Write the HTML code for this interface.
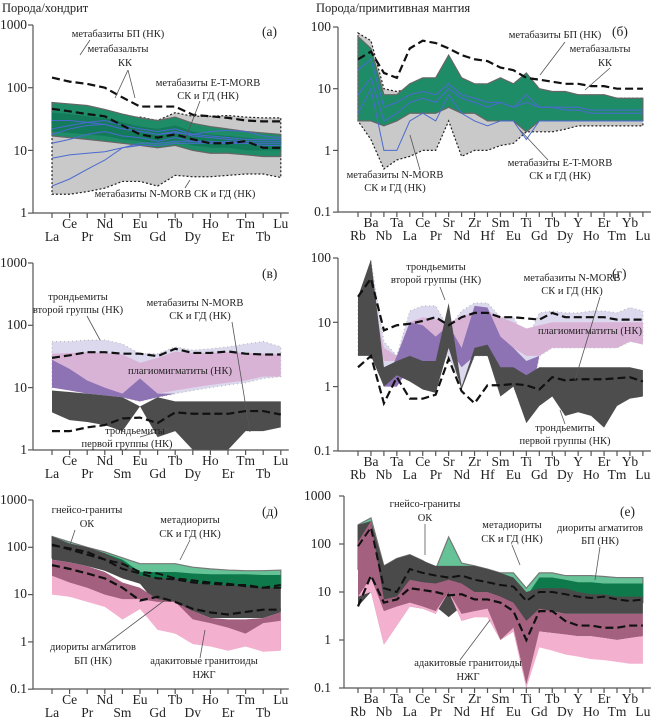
<!DOCTYPE html>
<html><head><meta charset="utf-8">
<style>
body{margin:0;background:#fff;}
svg text{font-family:"Liberation Serif",serif;fill:#222;}
.t{font-size:10.5px;}
.ax{font-size:13.5px;}
.h{font-size:12.5px;}
</style></head>
<body>
<svg id="s" width="652" height="717" viewBox="0 0 652 717" xmlns="http://www.w3.org/2000/svg">
<rect width="652" height="717" fill="#fff"/>
<g id="shapes"></g>
<g id="axes" stroke="#555" stroke-width="1.2" fill="none"></g>
<text class="h" x="2" y="12">Порода/хондрит</text>
<text class="h" x="316" y="12">Порода/примитивная мантия</text>
<g class="ax" text-anchor="end">
<text x="27" y="29">1000</text><text x="27" y="92">100</text><text x="27" y="155">10</text><text x="27" y="217">1</text>
<text x="331" y="31">100</text><text x="331" y="93">10</text><text x="331" y="155">1</text><text x="331" y="216">0.1</text>
<text x="27" y="267">1000</text><text x="27" y="329">100</text><text x="27" y="392">10</text><text x="27" y="454">1</text>
<text x="331" y="262">100</text><text x="331" y="327">10</text><text x="331" y="391">1</text><text x="331" y="455">0.1</text>
<text x="27" y="504">1000</text><text x="27" y="551">100</text><text x="27" y="598">10</text><text x="27" y="646">1</text><text x="27" y="693">0.1</text>
<text x="331" y="500">1000</text><text x="331" y="548">100</text><text x="331" y="596">10</text><text x="331" y="644">1</text><text x="331" y="692">0.1</text>
</g>
<g id="xl" class="ax" text-anchor="middle"></g>
<g class="ax"><text x="262" y="36">(а)</text><text x="612" y="36">(б)</text><text x="262" y="278">(в)</text><text x="612" y="278">(г)</text><text x="262" y="516">(д)</text><text x="620" y="516">(е)</text></g>
<g class="t" text-anchor="middle">
<text x="118" y="37">метабазиты БП (НК)</text>
<text x="118" y="52">метабазальты</text><text x="125" y="66">КК</text>
<text x="208" y="86">метабазиты E-T-MORB</text><text x="208" y="99">СК и ГД (НК)</text>
<text x="175" y="197">метабазиты N-MORB СК и ГД (НК)</text>
<text x="555" y="38">метабазиты БП (НК)</text>
<text x="600" y="52">метабазальты</text><text x="605" y="66">КК</text>
<text x="560" y="166">метабазиты E-T-MORB</text><text x="560" y="179">СК и ГД (НК)</text>
<text x="395" y="178">метабазиты N-MORB</text><text x="395" y="191">СК и ГД (НК)</text>
<text x="78" y="300">трондьемиты</text><text x="78" y="313">второй группы (НК)</text>
<text x="195" y="306">метабазиты N-MORB</text><text x="200" y="319">СК и ГД (НК)</text>
<text x="180" y="374">плагиомигматиты (НК)</text>
<text x="135" y="434">трондьемиты</text><text x="127" y="447">первой группы (НК)</text>
<text x="436" y="270">трондьемиты</text><text x="436" y="283">второй группы (НК)</text>
<text x="572" y="281">метабазиты N-MORB</text><text x="572" y="294">СК и ГД (НК)</text>
<text x="590" y="334">плагиомигматиты (НК)</text>
<text x="565" y="431">трондьемиты</text><text x="565" y="444">первой группы (НК)</text>
<text x="87" y="513">гнейсо-граниты</text><text x="87" y="527">ОК</text>
<text x="190" y="523">метадиориты</text><text x="190" y="537">СК и ГД (НК)</text>
<text x="93" y="650">диориты агматитов</text><text x="93" y="664">БП (НК)</text>
<text x="204" y="664">адакитовые гранитоиды</text><text x="204" y="678">НЖГ</text>
<text x="425" y="507">гнейсо-граниты</text><text x="425" y="521">ОК</text>
<text x="512" y="528">метадиориты</text><text x="512" y="542">СК и ГД (НК)</text>
<text x="600" y="531">диориты агматитов</text><text x="600" y="544">БП (НК)</text>
<text x="468" y="666">адакитовые гранитоиды</text><text x="468" y="680">НЖГ</text>
</g>
</svg>
<script>
var NS="http://www.w3.org/2000/svg";
var G=document.getElementById('shapes'),A=document.getElementById('axes'),XL=document.getElementById('xl');
function P(ax,x0,dx,n,top,ytop,dec,ybot){return{ax:ax,x0:x0,dx:dx,n:n,top:top,ytop:ytop,dec:dec,ybot:ybot};}
var REE=['La','Ce','Pr','Nd','Sm','Eu','Gd','Tb','Dy','Ho','Er','Tm','Tb','Lu'];
var PM=['Rb','Ba','Nb','Ta','La','Ce','Pr','Sr','Nd','Zr','Hf','Sm','Eu','Ti','Gd','Tb','Dy','Y','Ho','Er','Tm','Yb','Lu'];
var pa=P(33,52,17.6,14,1000,25,62.7,213), pb=P(338,358,12.95,23,100,27,61.7,212),
    pc=P(33,52,17.6,14,1000,263,62.3,450), pd=P(338,358,12.95,23,100,258,64.3,451),
    pe=P(33,52,17.6,14,1000,500,47.3,689), pf=P(344,358,12.95,23,1000,496,48,688);
function Y(p,v){return p.ytop+(Math.log10(p.top)-Math.log10(v))*p.dec;}
function X(p,i){return p.x0+i*p.dx;}
function el(t,a,par){var e=document.createElementNS(NS,t);for(var k in a)e.setAttribute(k,a[k]);(par||G).appendChild(e);return e;}
function band(p,up,lo,fill,stroke,dash){var s=[];for(var i=0;i<up.length;i++)s.push(X(p,i)+','+Y(p,up[i]));for(var i=lo.length-1;i>=0;i--)s.push(X(p,i)+','+Y(p,lo[i]));
 el('polygon',{points:s.join(' '),fill:fill,stroke:stroke||'none','stroke-width':1.2,'stroke-dasharray':dash||''});}
function line(p,v,col,w,dash){var s=[];for(var i=0;i<v.length;i++)s.push(X(p,i)+','+Y(p,v[i]));el('polyline',{points:s.join(' '),fill:'none',stroke:col,'stroke-width':w,'stroke-dasharray':dash||''});}
function axes(p,names,w){el('line',{x1:p.ax,y1:p.ytop,x2:p.ax,y2:p.ybot},A);el('line',{x1:p.ax,y1:p.ybot,x2:X(p,p.n-1)+8,y2:p.ybot},A);
 for(var y=p.ytop;y<=p.ybot+1;y+=p.dec)el('line',{x1:p.ax-5,y1:y,x2:p.ax,y2:y},A);
 for(var i=0;i<p.n;i++){el('line',{x1:X(p,i),y1:p.ybot,x2:X(p,i),y2:p.ybot+5},A);var t=el('text',{x:X(p,i),y:p.ybot+(i%2?15:28)},XL);t.textContent=names[i];}}
// (a)
band(pa,[28,30,33,35,34,34,30,40,35,35,36,34,33,33],[2,2,2.2,2.5,3.2,3.2,2.7,4,3.8,3.8,4,4.2,4.2,3.7],'#c9c9c9','#222','2,2');
band(pa,[58,55,52,45,38,33,30,34,27,24,22,20,19,18],[17,16,15,14,13,12,11,12,10,9,9,8.5,8,8],'#1f8c68','#666');
band(pa,[40,38,35,33,28,24,22,25,20,18,17,16,15,15],[20,19,18,17,15,14,13,14,12,11,11,10,10,10],'#137a5a');
[[18,22,25,26,22,20,18,20,17,16,15,14,14,14],[13,15,18,20,17,16,14,16,14,13,14,13,13,13],[7.5,8.5,9,9.5,11,12,12,13,13,13,13,13,12,12],[2.7,3.5,5,7,11,13,13,14,14,14,13,13,12,12],[30,30,28,26,22,20,18,19,18,20,21,20,17,16],[22,25,28,30,25,22,20,22,18,17,16,15,15,15]].forEach(function(v){line(pa,v,'#4a6ad0',1);});
line(pa,[145,125,115,100,70,50,50,50,37,35,33,30,29,29],'#111',2.2,'8,4');
line(pa,[46,42,38,35,25,18,16,18,15,13,13,14,11,11],'#111',2.2,'8,4');
// (b)
band(pb,[80,60,10,9,10,12,10,30,12,10,10,10,9,10,9,8,8,8,7,7,7,7,7],[3,1.5,0.5,0.7,0.8,1,1,3,0.8,1,1,1.2,1.3,2,2,2,2.2,2.5,2.5,2.5,2.5,2.5,2.5],'#c9c9c9','#222','2,2');
band(pb,[70,45,8,8,12,15,15,35,15,12,12,15,12,18,10,9,9,8,8,8,7,7,7],[3,3,2.5,3,4,4,4,5,4,4,3,3,3,2,3,3,3,3,3,3,3,3,3],'#1f8c68','#666');
[[20,30,5,6,8,9,8,12,8,7,6,6,5,6,5,5,5,5,4.5,4.5,4.5,4.5,4.5],[8,15,3,4,6,7,6,10,7,6,5,6,5,8,5,5,4.5,4.5,4,4,4,4,4],[4,10,1,1,3,4,3,8,4,3,2.5,3,3,1.5,3,3,3,3,3,3,3,3,3]].forEach(function(v){line(pb,v,'#4a6ad0',1);});
line(pb,[30,40,18,15,45,60,55,45,35,30,28,22,20,15,14,13,12,12,11,11,10,10,10],'#111',2.2,'8,4');
// (c)
band(pc,[55,55,58,58,50,35,35,45,40,42,45,50,55,45],[10,10,9,8,7,6,7,8,9,10,11,12,14,15],'#dcd8ee','#bbb','1,3');
band(pc,[35,36,37,36,34,25,30,38,36,36,37,36,35,34],[28,20,13,10,7,6,8,9,10,11,12,13,15,15],'#d9b3d6');
band(pc,[28,20,13,10,8,14,8,8,9,10,11,12,14,15],[10,9,8,7.5,7,6,7,8,9,10,11,12,14,15],'#8d72b4');
band(pc,[9,8.5,8,7.5,7,5,7,6,6,6,6,6,6,6],[4,3,2.8,2.5,2,5,1.6,2,1,1,1,2,2,2.3],'#4d4d4d');
line(pc,[30,33,37,37,35,35,32,42,36,36,38,35,34,34],'#111',2.2,'8,4');
line(pc,[2,2,2.3,2.5,3.2,3.3,2.7,4,3.8,3.8,3.8,4.2,4.2,3.7],'#111',2.2,'8,4');
// (d)
band(pd,[20,90,5,3,15,18,18,8,15,20,20,12,12,5,14,15,14,14,15,15,14,17,15],[3,15,1,2,3,3,2,3,1,3,3,1.5,1,0.3,3,4,4,4,4,4,4,5,5],'#dcd8ee','#bbb','1,3');
band(pd,[7,30,4,3,10,12,11,10,12,15,15,12,10,8,9,10,10,10,10,10,10,10,10],[4,8,2.5,2.5,3,3,3,4,4,4,4,4,4,3,3,4,4,4,4,4,4,5,4.5],'#d9b3d6');
band(pd,[7,25,1,3,10,9,6,9,4,18,17,6,4,2.5,3,4,4,4,4,4,4,5,4.5],[3,6,1,1,2,2,2,4,2,3,3,2,1.5,0.3,3,4,4,4,4,4,4,5,4.5],'#8d72b4');
band(pd,[25,95,2,2.5,3,2.5,2.5,20,1,4,4.5,2,2,1.5,2,2,2,2,2,2,2,2,1.8],[3,3,1,1.5,1.2,0.9,0.8,4,0.9,3,3,0.7,1,0.27,0.5,0.7,0.35,0.4,0.35,0.23,0.5,0.65,0.7],'#4d4d4d');
line(pd,[25,48,7.5,9,9.5,10.5,12,9,12,14,14,12,12,11.5,11,14,12,12,12,12,11,11,11],'#111',2.2,'8,4');
line(pd,[2,3,0.55,1.4,0.65,0.65,0.75,2.7,0.85,0.55,1.05,1.05,1.1,1.05,0.9,1.4,1.25,1.3,1.3,1.3,1.35,1.4,1.2],'#111',2.2,'8,4');
// (e)
band(pe,[170,130,100,80,60,45,45,45,38,35,33,32,32,33],[60,55,50,40,28,20,20,20,18,17,16,15,14,14],'#66c297','#777');
band(pe,[120,100,90,75,55,30,30,30,28,27,27,27,26,26],[55,50,45,38,28,20,20,20,17,16,15,15,14,13],'#0e7a4c');
band(pe,[170,120,100,75,50,25,22,22,18,16,16,15,14,14],[55,48,40,32,22,17,6,5,4.5,3.2,3.2,3.2,3.2,4.2],'#4a4a4a');
band(pe,[55,48,40,30,18,14,8,7,4.5,3.2,3,3,3.2,4.2],[11,9,8,6,3,5,2,1.5,1.2,1,0.8,0.9,0.7,0.7],'#a3607f');
band(pe,[25,18,14,10,8,8,7,7,3,2.5,2,1.5,2.5,2.8],[10,9,7,5.5,3,5,1.8,1.5,0.9,0.8,0.65,0.8,0.62,0.65],'#f4b0cf');
line(pe,[110,95,80,55,45,30,28,22,20,18,17,15,14,16],'#111',2,'8,4');
line(pe,[115,90,70,55,35,28,22,21,18,17,16,16,14,14],'#111',2,'8,4');
line(pe,[42,35,28,22,14,7.5,9,7,5,4.2,3.8,4.3,4.8,4.8],'#111',2.2,'8,4');
// (f)
band(pf,[250,350,35,50,60,45,30,140,40,35,30,25,25,12,25,25,22,22,22,21,20,20,20],[30,40,10,12,15,15,12,20,12,10,10,8,8,5,6,6,6,6,6,6,6,6,6],'#66c297','#777');
band(pf,[110,200,15,30,50,40,30,28,30,25,22,18,15,8,20,20,18,16,16,15,15,15,15],[10,15,8,8,12,12,10,10,10,8,8,7,7,5,6,6,6,6,6,6,6,6,6],'#0e7a4c');
band(pf,[250,300,35,50,60,45,35,35,35,35,30,25,20,10,12,12,12,10,9,9,8,8,8],[5,10,6,5,5,4.5,5,3,5,5,5,3,2,1.5,4,4,3.5,3.5,3.5,3.5,3.5,3.5,3.5],'#4a4a4a');
band(pf,[110,300,7,8,18,16,15,18,15,10,10,8,6,2.5,4.5,4,3.5,3.5,3.5,3.5,3.5,3.5,3.5],[8,10,0.8,2,5,4.5,3.5,10,2.5,3,3,1,1.5,0.1,1.5,1.4,1.3,1.2,1.2,1.1,1,1.1,1.2],'#a3607f');
band(pf,[8,20,4,5,6,5,4,10,3.5,4,4.5,1,1.8,0.12,1.5,1.4,1.3,1.2,1.2,1.1,1,1.1,1.2],[8,10,0.8,2,5,4.5,3.5,10,2.5,3,3,1,1.5,0.1,0.7,0.6,0.5,0.45,0.4,0.38,0.35,0.32,0.32],'#f4b0cf');
line(pf,[90,220,12,10,30,25,22,20,22,18,16,14,13,6.5,10,10,9,8,7.5,8,7,6.5,7],'#111',2,'8,4');
line(pf,[5,22,6,7,12,11,10,8.5,9,7,7,6,4,1,4,4,2.5,2,2,1.8,1.8,2,2],'#111',2.2,'8,4');
// leader lines
[[90,40,80,55],[128,70,115,98],[128,70,135,98],[200,101,185,140],[185,188,190,180],[565,42,540,75],[610,68,585,90],[548,160,520,130],[420,170,410,135],[87,316,100,340],[232,322,250,432],[140,437,170,428],[440,287,445,300],[600,297,575,380],[565,424,560,410],[75,530,70,545],[190,540,180,560],[105,645,165,600],[200,658,205,630],[425,524,425,555],[512,545,520,565],[600,547,595,580],[460,660,490,620]].forEach(function(l){el('line',{x1:l[0],y1:l[1],x2:l[2],y2:l[3],stroke:'#555','stroke-width':0.8});});
axes(pa,REE);axes(pb,PM);axes(pc,REE);axes(pd,PM);axes(pe,REE);axes(pf,PM);
</script>
</body></html>
